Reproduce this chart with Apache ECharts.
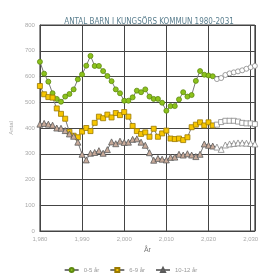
<!DOCTYPE html>
<html>
<head>
<meta charset="utf-8">
<script src="https://cdn.jsdelivr.net/npm/echarts@6/dist/echarts.min.js"></script>
<style>
html, body { margin: 0; padding: 0; background: #fff; }
#main { width: 261px; height: 278px; }
</style>
</head>
<body>
<div id="main"></div>
<script>
const years = [1980, 1981, 1982, 1983, 1984, 1985, 1986, 1987, 1988, 1989,
  1990, 1991, 1992, 1993, 1994, 1995, 1996, 1997, 1998, 1999,
  2000, 2001, 2002, 2003, 2004, 2005, 2006, 2007, 2008, 2009,
  2010, 2011, 2012, 2013, 2014, 2015, 2016, 2017, 2018, 2019,
  2020, 2021, 2022, 2023, 2024, 2025, 2026, 2027, 2028, 2029,
  2030, 2031];
const forecastFrom = 2022;

const age0to5 = [657, 611, 580, 535, 513, 502, 522, 532, 550, 589,
  608, 642, 680, 641, 641, 621, 602, 582, 550, 535,
  506, 506, 519, 545, 539, 550, 522, 513, 513, 498,
  467, 485, 485, 511, 539, 522, 528, 583, 621, 607,
  604, 601, 590, 594, 606, 612, 616, 620, 624, 630,
  636, 641];
const age6to9 = [563, 531, 520, 518, 476, 455, 436, 385, 370, 364,
  386, 400, 388, 420, 444, 438, 452, 441, 458, 450,
  462, 444, 408, 388, 377, 383, 366, 397, 366, 379,
  390, 359, 357, 359, 353, 364, 403, 413, 422, 410,
  422, 410, 413, 423, 428, 428, 428, 425, 420, 418,
  418, 415];
const age10to12 = [415, 418, 415, 411, 400, 399, 390, 377, 368, 345,
  298, 276, 302, 305, 312, 302, 316, 346, 339, 349,
  344, 345, 356, 358, 345, 333, 304, 275, 282, 279,
  276, 286, 287, 298, 295, 300, 295, 289, 298, 338,
  333, 330, 326, 317, 334, 338, 340, 342, 342, 341,
  340, 338];

const yTicks = [0, 100, 200, 300, 400, 500, 600, 700, 800];

function points(values) {
  return years.map(function (y, i) {
    const p = { value: [y, values[i]] };
    if (y >= forecastFrom) {
      p.itemStyle = { color: '#fff', borderColor: '#888' };
    }
    return p;
  });
}

function makeSeries(name, values, symbol, fill, border) {
  return {
    name: name,
    type: 'line',
    data: points(values),
    symbol: symbol,
    symbolSize: symbol === 'triangle' ? 6 : 5,
    lineStyle: { color: '#777', width: 1 },
    itemStyle: { color: fill, borderColor: border, borderWidth: 0.8 },
    emphasis: { disabled: true },
    animation: false
  };
}

const chart = echarts.init(document.getElementById('main'));
chart.setOption({
  animation: false,
  textStyle: { fontFamily: 'Liberation Sans, sans-serif' },
  title: {
    text: 'ANTAL BARN I KUNGSÖRS KOMMUN 1980-2031',
    left: 144,
    textAlign: 'center',
    top: 13,
    textStyle: { fontFamily: 'DejaVu Sans Condensed, Liberation Sans, sans-serif', fontSize: 8, fontWeight: 'normal', color: '#5b7f8f' }
  },
  grid: { left: 32, right: 1, top: 25, bottom: 47, show: true, borderColor: '#444', borderWidth: 1 },
  legend: {
    bottom: 0,
    left: 'center',
    itemWidth: 14,
    itemHeight: 5,
    itemGap: 10,
    textStyle: { fontSize: 6, color: '#999' },
    data: ['0-5 år', '6-9 år', '10-12 år']
  },
  xAxis: {
    type: 'value',
    min: 1980,
    max: 2031,
    interval: 10,
    name: 'År',
    nameLocation: 'middle',
    nameGap: 15,
    nameTextStyle: { fontSize: 7, color: '#777' },
    axisLine: { lineStyle: { color: '#444' } },
    axisTick: { show: false },
    axisLabel: { fontSize: 6, color: '#aaa', margin: 5 },
    splitLine: { lineStyle: { color: '#444', width: 1 } }
  },
  yAxis: {
    type: 'value',
    min: yTicks[0],
    max: yTicks[yTicks.length - 1],
    interval: 100,
    name: 'Antal',
    nameLocation: 'middle',
    nameGap: 18,
    nameTextStyle: { fontSize: 6, color: '#aaa' },
    axisLine: { show: true, lineStyle: { color: '#444' } },
    axisTick: { show: false },
    axisLabel: { fontSize: 6, color: '#aaa', margin: 5 },
    splitLine: { lineStyle: { color: '#444', width: 1 } }
  },
  series: [
    makeSeries('0-5 år', age0to5, 'circle', '#8cc21b', '#5e8a10'),
    makeSeries('6-9 år', age6to9, 'rect', '#f7c600', '#9a7a00'),
    makeSeries('10-12 år', age10to12, 'triangle', '#c9ab9a', '#5a5a5a')
  ]
});
</script>
</body>
</html>
